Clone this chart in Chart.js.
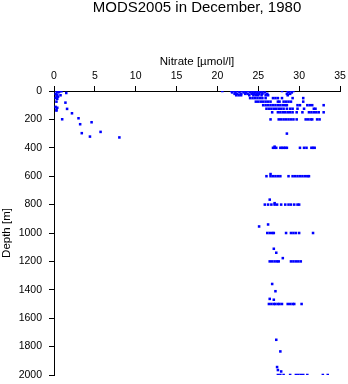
<!DOCTYPE html>
<html>
<head>
<meta charset="utf-8">
<title>MODS2005 in December, 1980</title>
<script src="https://cdn.jsdelivr.net/npm/chart.js@4.4.1/dist/chart.umd.min.js"></script>
<style>
    html, body { margin: 0; padding: 0; background: #ffffff; }
    #wrap { width: 348px; height: 384px; position: relative; }
</style>
</head>
<body>
<div id="wrap"><canvas id="profile-chart"></canvas></div>
<script>
// ─── Data ────────────────────────────────────────────────────────
const depthLevels = [0, 10, 20, 30, 50, 75, 100, 125, 150, 200, 300, 400, 600, 800, 1000, 1200, 1500, 2000];

// nitrate values [µmol/l] found at each standard depth level above
const nitrateByLevel = [
    [20.6, 21.7, 22.0, 22.3, 22.6, 23.0, 23.3, 23.6, 23.9, 24.2, 24.5, 24.8, 25.1, 25.4, 27.9, 28.6, 29.0, 29.3],
    [21.8, 22.2, 22.7, 23.2, 23.5, 24.0, 24.3, 24.6, 24.9, 25.2, 25.5, 25.8, 28.7, 29.1],
    [22.1, 22.4, 22.9, 23.4, 23.7, 24.2, 24.5, 24.8, 25.1, 25.5, 26.1, 28.5, 28.9],
    [22.3, 22.6, 22.9, 23.9, 24.4, 24.7, 25.0, 25.4, 25.9, 26.2, 28.6],
    [24.0, 24.3, 24.6, 24.9, 25.2, 25.5, 25.9, 26.8, 27.1, 27.4, 27.9, 29.2, 30.5],
    [24.7, 25.0, 25.3, 25.6, 25.9, 26.2, 26.5, 27.4, 27.6, 28.1, 28.4, 28.7, 29.0, 30.5],
    [25.6, 25.9, 26.2, 26.5, 26.8, 27.1, 27.4, 27.7, 28.0, 28.3, 28.5, 29.8, 30.1, 31.0, 31.3, 31.6, 33.0],
    [26.0, 26.3, 26.6, 26.9, 27.2, 27.5, 27.8, 28.1, 28.5, 28.9, 29.2, 29.8, 30.6, 31.8, 32.0],
    [26.7, 27.4, 27.7, 28.0, 28.3, 28.6, 28.9, 29.2, 29.7, 30.4, 31.2, 31.5, 31.8, 32.1, 32.4, 33.0],
    [26.5, 27.5, 27.8, 28.1, 28.4, 28.7, 29.0, 29.3, 29.7, 30.8, 31.1, 31.4, 31.6, 32.2, 32.5],
    [28.5],
    [26.8, 27.0, 27.2, 27.7, 27.9, 28.1, 28.3, 28.5, 30.1, 30.6, 30.9, 31.5, 31.7, 31.9],
    [26.0, 26.5, 26.8, 27.1, 27.4, 27.7, 28.7, 29.2, 29.5, 29.8, 30.1, 30.4, 30.7, 31.0, 31.2],
    [25.8, 26.2, 26.6, 27.0, 27.3, 27.8, 28.3, 28.7, 29.0, 29.4, 29.8, 30.0],
    [26.1, 26.4, 26.7, 26.9, 28.4, 29.0, 29.3, 29.6, 30.0, 31.7],
    [26.4, 26.7, 27.0, 27.3, 27.5, 29.0, 29.3, 29.6, 29.9, 30.2],
    [26.3, 26.6, 26.9, 27.1, 27.4, 27.6, 27.9, 28.6, 28.9, 29.2, 29.4, 30.3],
    [27.4, 27.7, 28.1, 28.9, 29.6, 29.9, 30.2, 30.5, 31.0, 32.9, 33.5]
];

// casts sampled off the standard levels
const extraNitrate = [27.0, 26.5, 26.4, 27.0, 25.1, 26.2, 26.9, 27.2, 28.0, 26.7, 27.1, 26.4, 26.9, 27.2, 27.7, 27.3, 27.4, 27.8];
const extraDepth   = [392, 585, 765, 790, 954, 940, 1111, 1139, 1177, 1359, 1410, 1464, 1470, 1752, 1834, 1944, 1965, 1975];

// nitrate-depleted surface profile on the left
const shallowNitrate = [0.3, 0.5, 0.7, 0.9, 0.4, 0.6, 1.5, 0.2, 0.4, 0.8, 0.3, 0.5, 0.2, 0.4, 0.3, 1.4, 0.2, 0.4, 0.3, 0.3, 1.6, 2.2, 1.0, 3.0, 3.2, 4.6, 3.4, 5.7, 4.4, 8.0];
const shallowDepth   = [0, 0, 0, 2, 5, 8, 14, 20, 25, 30, 35, 40, 50, 55, 75, 82, 112, 118, 130, 138, 126, 157, 199, 192, 234, 220, 297, 288, 321, 327];

const xTicks = [0, 5, 10, 15, 20, 25, 30, 35];
const yTicks = [0, 200, 400, 600, 800, 1000, 1200, 1400, 1600, 1800, 2000];

// ─── Build points ────────────────────────────────────────────────
function buildPoints() {
    const pts = [];
    depthLevels.forEach((d, i) => {
        nitrateByLevel[i].forEach(v => pts.push({ x: v, y: d }));
    });
    extraNitrate.forEach((v, i) => pts.push({ x: v, y: extraDepth[i] }));
    shallowNitrate.forEach((v, i) => pts.push({ x: v, y: shallowDepth[i] }));
    return pts;
}

const FONT = "'Liberation Sans', Arial, sans-serif";

new Chart(document.getElementById("profile-chart").getContext("2d"), {
    type: "scatter",
    data: {
        datasets: [{
            label: "Nitrate",
            data: buildPoints(),
            backgroundColor: "#0000ff",
            borderWidth: 0,
            pointStyle: "rect",
            pointRadius: 1.8,
        }]
    },
    options: {
        responsive: true,
        maintainAspectRatio: false,
        animation: false,
        events: [],
        layout: { padding: { left: 0, right: 8, top: 0, bottom: 9 } },
        plugins: {
            legend: { display: false },
            tooltip: { enabled: false },
            title: {
                display: true,
                text: "MODS2005 in December, 1980",
                fullSize: false,
                color: "#000000",
                font: { family: FONT, size: 15, weight: "normal", lineHeight: 1 },
                padding: { top: 0, bottom: 0 }
            }
        },
        scales: {
            x: {
                type: "linear",
                position: "top",
                min: 0,
                max: 35,
                afterBuildTicks: s => { s.ticks = xTicks.map(v => ({ value: v })); },
                afterFit: s => { s.height = 76; s.paddingLeft = 0; s.paddingRight = 0; },
                ticks: { color: "#000000", padding: 4, font: { family: FONT, size: 10.5 }, callback: v => String(v) },
                grid: { drawOnChartArea: false, drawTicks: true, tickLength: 5, tickColor: "#000000", tickWidth: 1 },
                border: { display: true, color: "#000000", width: 1 },
                title: {
                    display: true,
                    text: "Nitrate [µmol/l]",
                    color: "#000000",
                    font: { family: FONT, size: 11.5 },
                    padding: { top: 40, bottom: 0 }
                }
            },
            y: {
                type: "linear",
                reverse: true,
                min: 0,
                max: 2000,
                afterBuildTicks: s => { s.ticks = yTicks.map(v => ({ value: v })); },
                afterFit: s => { s.width = 54; s.paddingTop = 0; s.paddingBottom = 0; },
                ticks: { color: "#000000", padding: 7, font: { family: FONT, size: 10.5 }, callback: v => String(v) },
                grid: { drawOnChartArea: false, drawTicks: true, tickLength: 5, tickColor: "#000000", tickWidth: 1 },
                border: { display: true, color: "#000000", width: 1 },
                title: {
                    display: true,
                    text: "Depth [m]",
                    color: "#000000",
                    font: { family: FONT, size: 11.5 },
                    padding: { top: 0, bottom: 0 }
                }
            }
        }
    }
});
</script>
</body>
</html>
